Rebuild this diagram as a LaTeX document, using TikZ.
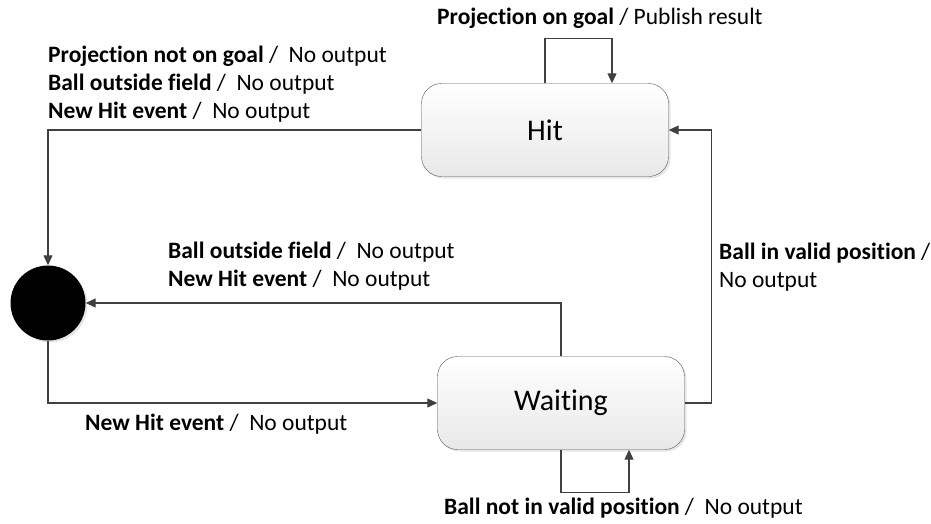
\documentclass[tikz,border=0pt]{standalone}
\usepackage{fontspec}
\setmainfont{Carlito}[Ligatures=NoCommon]
\usetikzlibrary{arrows.meta,shadows}
\definecolor{linegray}{HTML}{404040}
\definecolor{boxgray}{HTML}{595959}
\tikzset{
  state/.style={draw=boxgray, rounded corners=20pt, minimum width=247pt,
    minimum height=93pt, top color=white, bottom color=black!9,
    drop shadow={opacity=0.2, shadow xshift=2pt, shadow yshift=-2pt},
    font=\fontsize{30}{34}\selectfont},
  trans/.style={draw=linegray, line width=1.1pt, -{Triangle[length=10pt,width=9pt]}},
  lbl/.style={anchor=west, align=left, inner sep=0pt, font=\fontsize{23.5}{28}\selectfont}
}
\begin{document}
\begin{tikzpicture}[x=1pt,y=-1pt]
\useasboundingbox (0,0) rectangle (931,523);
\node[state] (hit) at (545,130) {Hit};
\node[state] (wait) at (561,403) {Waiting};
\node[circle, fill=black, minimum size=75pt, inner sep=0pt,
  drop shadow={opacity=0.2, shadow xshift=2pt, shadow yshift=-2pt}] (init) at (48,303) {};
% transitions
\draw[trans] (hit.west) -| (init.north);
\draw[trans] (wait.north) |- (init.east);
\draw[trans] (init.south) |- (wait.west);
\draw[trans] (wait.east) -- ++(27,0) |- (hit.east);
\draw[trans] (hit.north) -- ++(0,-45) -| ([xshift=67pt]hit.north);
\draw[trans] (wait.south) -- ++(0,43) -| ([xshift=68pt]wait.south);
% labels
\node[lbl] (lblhitloop) at (437,18) {\textbf{Projection on goal} / Publish result};
\node[lbl] (lblhitinit) at (48,84) {\textbf{Projection not on goal} /\ \ No output\\
  \textbf{Ball outside field} /\ \ No output\\
  \textbf{New Hit event} /\ \ No output};
\node[lbl] (lblwaitinit) at (168,266) {\textbf{Ball outside field} /\ \ No output\\
  \textbf{New Hit event} /\ \ No output};
\node[lbl] (lblinitwait) at (85,424) {\textbf{New Hit event} /\ \ No output};
\node[lbl] (lblwaithit) at (719,267) {\textbf{Ball in valid position} /\\ No output};
\node[lbl] (lblwaitloop) at (444,508) {\textbf{Ball not in valid position} /\ \ No output};
\end{tikzpicture}
\end{document}
